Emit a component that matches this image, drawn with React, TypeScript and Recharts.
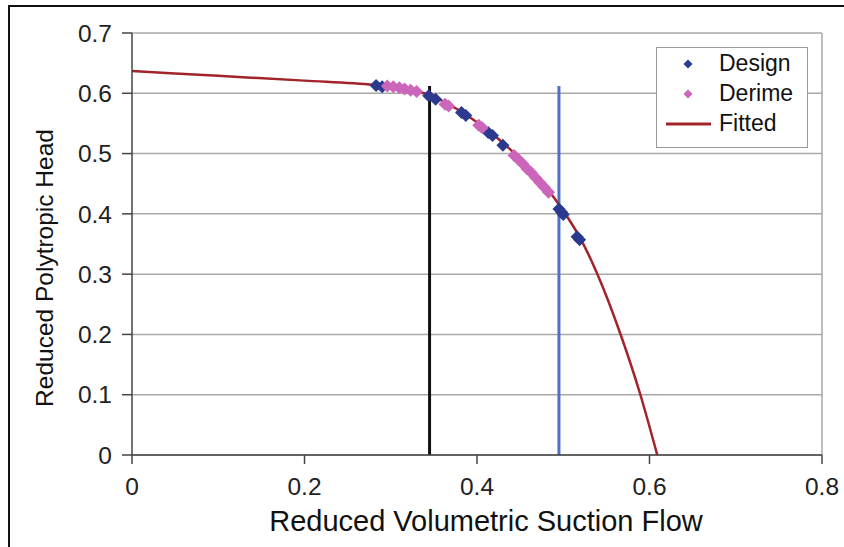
import {
  ComposedChart, Line, Scatter, XAxis, YAxis, CartesianGrid, ReferenceLine,
  Legend, Label,
} from "recharts";

const xTicks = [0, 0.2, 0.4, 0.6, 0.8];
const yTicks = [0, 0.1, 0.2, 0.3, 0.4, 0.5, 0.6, 0.7];

const fittedQ = [0, 0.1, 0.2, 0.28, 0.32, 0.35, 0.38, 0.4, 0.42, 0.44, 0.46, 0.48, 0.5, 0.52, 0.539, 0.566, 0.589, 0.609];
const fittedH = [0.637, 0.629, 0.621, 0.614, 0.607, 0.594, 0.571, 0.552, 0.53, 0.505, 0.476, 0.444, 0.405, 0.359, 0.302, 0.202, 0.102, 0];

const designQ = [0.283, 0.29, 0.344, 0.352, 0.382, 0.387, 0.413, 0.418, 0.43, 0.495, 0.498, 0.5, 0.516, 0.519];
const designH = [0.613, 0.611, 0.596, 0.59, 0.568, 0.563, 0.535, 0.53, 0.514, 0.408, 0.403, 0.399, 0.362, 0.357];

const derimeQ = [0.296, 0.303, 0.31, 0.316, 0.323, 0.33, 0.363, 0.367, 0.402, 0.406, 0.443, 0.448, 0.453, 0.458, 0.463, 0.468, 0.473, 0.478, 0.483];
const derimeH = [0.612, 0.611, 0.609, 0.607, 0.605, 0.603, 0.582, 0.579, 0.547, 0.543, 0.497, 0.49, 0.483, 0.475, 0.468, 0.46, 0.452, 0.444, 0.436];

const blackQ = 0.345;
const blueQ = 0.495;
const lineTop = 0.612;

const fitted = fittedQ.map((q, i) => ({ q, h: fittedH[i] }));
const design = designQ.map((q, i) => ({ q, h: designH[i] }));
const derime = derimeQ.map((q, i) => ({ q, h: derimeH[i] }));

const NAVY = "#2b3a8f";
const PINK = "#cc66bb";
const RED = "#a3232a";
const FONT = "'Liberation Sans', Arial, sans-serif";

const Diamond = (props: any) => {
  const { cx, cy, fill } = props;
  const r = 6.5;
  return <path d={`M${cx},${cy - r}L${cx + r},${cy}L${cx},${cy + r}L${cx - r},${cy}Z`} fill={fill} />;
};

const LegendBox = () => (
  <div style={{
    position: "absolute", left: 656, top: 47, width: 152, height: 101,
    border: "1.5px solid #9a9a9a", background: "#fff", fontFamily: FONT,
    fontSize: 23, color: "#111", boxSizing: "border-box",
  }}>
    {[
      { name: "Design", kind: "d", color: NAVY },
      { name: "Derime", kind: "d", color: PINK },
      { name: "Fitted", kind: "l", color: RED },
    ].map((it, i) => (
      <div key={it.name} style={{ position: "absolute", left: 0, top: 1 + i * 30, height: 30, width: 150 }}>
        <svg width={60} height={30} style={{ position: "absolute", left: 0, top: 0 }}>
          {it.kind === "d"
            ? <path d="M31,10.5L35.5,15L31,19.5L26.5,15Z" fill={it.color} />
            : <line x1={9} x2={54} y1={15} y2={15} stroke={it.color} strokeWidth={3} />}
        </svg>
        <span style={{ position: "absolute", left: 62, top: 1, lineHeight: "26px" }}>{it.name}</span>
      </div>
    ))}
  </div>
);

const App = () => (
  <div style={{ position: "absolute", left: 0, top: 0, width: 844, height: 547, background: "#fff" }}>
    <ComposedChart
      width={844}
      height={547}
      margin={{ top: 33, right: 22, bottom: 0, left: 0 }}
    >
      <CartesianGrid vertical={false} stroke="#a8a8a8" strokeWidth={1.5} />
      <XAxis
        dataKey="q"
        type="number"
        domain={[0, 0.8]}
        ticks={xTicks}
        tickFormatter={v => String(v)}
        height={92}
        tickSize={9}
        tickMargin={14}
        stroke="#444"
        strokeWidth={1.5}
        tick={{ fontSize: 24.5, fontFamily: FONT, fill: "#222" }}
      >
        <Label
          content={() => (
            <text x={486} y={531} textAnchor="middle" fontSize={29} fontFamily={FONT} fill="#111">
              Reduced Volumetric Suction Flow
            </text>
          )}
        />
      </XAxis>
      <YAxis
        dataKey="h"
        type="number"
        domain={[0, 0.7]}
        ticks={yTicks}
        tickFormatter={v => String(v)}
        width={132}
        tickSize={10}
        tickMargin={10}
        stroke="#444"
        strokeWidth={1.5}
        tick={{ fontSize: 24.5, fontFamily: FONT, fill: "#222" }}
      >
        <Label
          content={() => (
            <text x={53} y={268} transform="rotate(-90 53 268)" textAnchor="middle" fontSize={24.5} fontFamily={FONT} fill="#111">
              Reduced Polytropic Head
            </text>
          )}
        />
      </YAxis>
      <ReferenceLine x={0.8} stroke="#a8a8a8" strokeWidth={1.5} />
      <ReferenceLine segment={[{ x: blackQ, y: 0 }, { x: blackQ, y: lineTop }]} stroke="#111" strokeWidth={3} />
      <ReferenceLine segment={[{ x: blueQ, y: 0 }, { x: blueQ, y: lineTop }]} stroke="#4a72c8" strokeWidth={3} />
      <Line data={fitted} dataKey="h" type="monotone" stroke={RED} strokeWidth={2.5} dot={false} isAnimationActive={false} />
      <Scatter data={design} dataKey="h" fill={NAVY} shape={Diamond} isAnimationActive={false} />
      <Scatter data={derime} dataKey="h" fill={PINK} shape={Diamond} isAnimationActive={false} />
      <Legend content={() => null} />
    </ComposedChart>
    <LegendBox />
    <div style={{ position: "absolute", left: 8, top: 5, width: 836, height: 542, borderTop: "2.5px solid #111", borderLeft: "2.5px solid #111" }} />
  </div>
);

export default App;
